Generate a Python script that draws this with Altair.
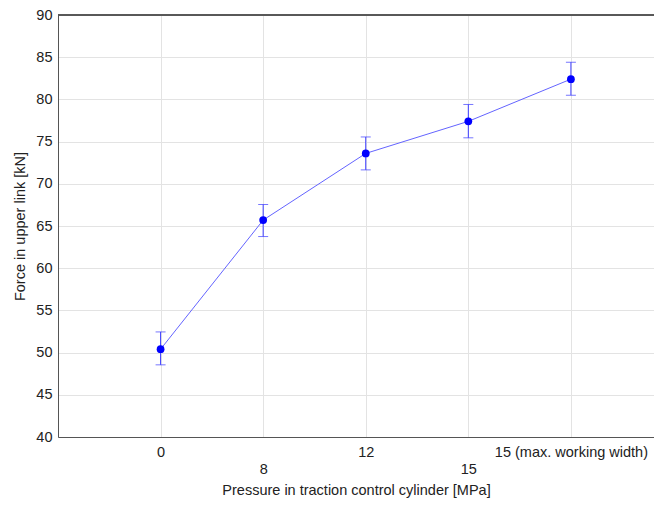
import altair as alt
import pandas as pd

categories = ["0", "8", "12", "15", "15 (max. working width)"]
positions = [0, 1, 2, 3, 4]
means = [50.4, 65.7, 73.6, 77.4, 82.4]
lower = [48.55, 63.75, 71.65, 75.45, 80.5]
upper = [52.45, 67.55, 75.55, 79.4, 84.4]

df = pd.DataFrame({"pos": positions, "cat": categories, "mean": means,
                   "lo": lower, "hi": upper})

FONT = "Liberation Sans"
FS = 14.5
W, H = 596, 422
xscale = alt.Scale(domain=[-1, 4.81], nice=False, zero=False)
yscale = alt.Scale(domain=[40, 90], nice=False, zero=False)

label_expr = ("['0', ['', '8'], '12', ['', '15'], '15 (max. working width)'][datum.value]")

x_bottom = alt.X("pos:Q", scale=xscale, axis=alt.Axis(
    values=positions, labelExpr=label_expr, title="Pressure in traction control cylinder [MPa]",
    grid=True, gridColor="#e3e3e3", ticks=False, tickSize=0, domainColor="#555555",
    labelPadding=8, labelLineHeight=17, labelFontSize=FS, labelColor="#222222",
    titleFontSize=FS, titleFontWeight="normal", titleColor="#222222", titlePadding=8,
    labelFont=FONT, titleFont=FONT, labelFlush=False))
y_enc = alt.Y("mean:Q", scale=yscale, axis=alt.Axis(
    values=list(range(40, 91, 5)), title="Force in upper link [kN]",
    grid=True, gridColor="#e3e3e3", ticks=False, tickSize=0, domainColor="#555555",
    labelPadding=6, labelFontSize=FS, labelColor="#222222",
    titleFontSize=FS, titleFontWeight="normal", titleColor="#222222", titlePadding=8,
    labelFont=FONT, titleFont=FONT))

base = alt.Chart(df)
border = base.mark_rule(color="#555555", strokeWidth=1).encode(
    x=alt.value(0), x2=alt.value(W), y=alt.value(0))
line = base.mark_line(color="#6464ff", strokeWidth=1).encode(x=x_bottom, y=y_enc)
err = base.mark_errorbar(ticks={"size": 10}, color="#3c3cff", thickness=1).encode(
    x=alt.X("pos:Q", scale=xscale), y=alt.Y("lo:Q", scale=yscale, title=""), y2="hi:Q")
pts = base.mark_circle(color="#0000ff", opacity=1, size=60).encode(
    x=alt.X("pos:Q", scale=xscale), y=alt.Y("mean:Q", scale=yscale))

chart = alt.layer(line, err, pts, border).properties(
    width=W, height=H,
    autosize=alt.AutoSizeParams(type="none"),
    padding={"left": 50, "top": 7, "right": 0, "bottom": 61},
).configure_view(stroke=None).configure(background="white")

chart.save("out.html", embed_options={"renderer": "svg", "actions": False})
